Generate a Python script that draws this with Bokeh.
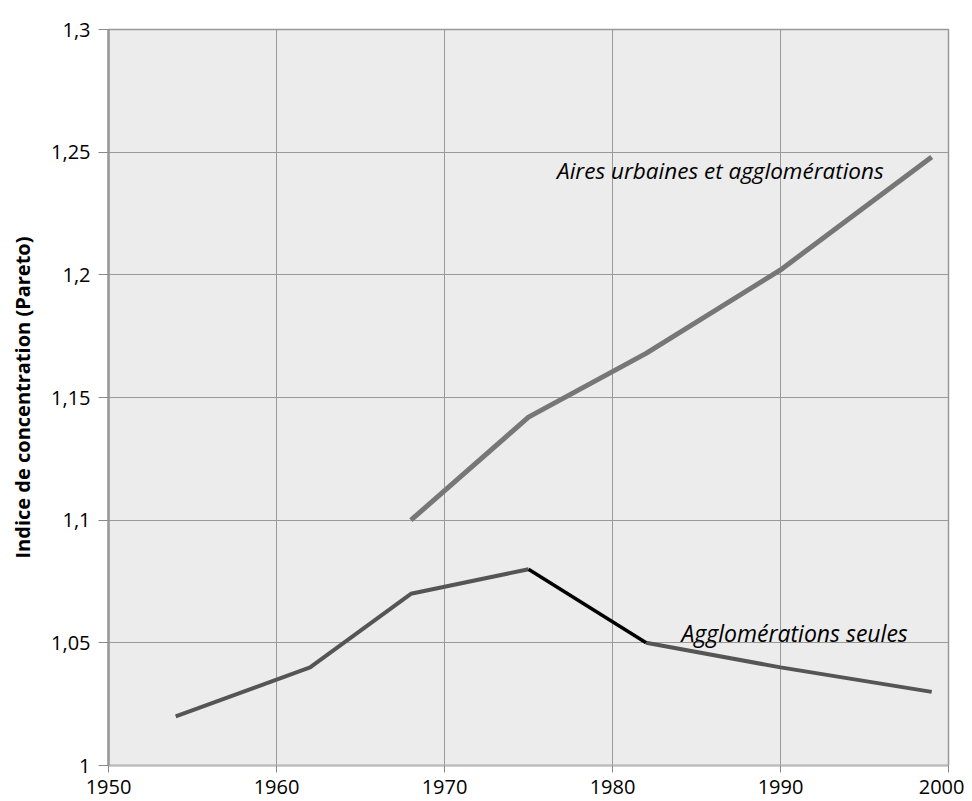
from bokeh.plotting import figure
from bokeh.models import CustomJSTickFormatter, FixedTicker, Label
from bokeh.embed import file_html
from bokeh.resources import INLINE

# Data
aires_years = [1968, 1975, 1982, 1990, 1999]
aires_vals = [1.100, 1.142, 1.168, 1.202, 1.248]

agglo_years_a = [1954, 1962, 1968, 1975]
agglo_vals_a = [1.020, 1.040, 1.070, 1.080]
agglo_years_b = [1975, 1982]
agglo_vals_b = [1.080, 1.050]
agglo_years_c = [1982, 1990, 1999]
agglo_vals_c = [1.050, 1.040, 1.030]

x_ticks = [1950, 1960, 1970, 1980, 1990, 2000]
y_ticks = [1.0, 1.05, 1.1, 1.15, 1.2, 1.25, 1.3]

FONT = "Open Sans"

p = figure(width=964, height=801, x_range=(1950, 2000), y_range=(1.0, 1.3),
           output_backend="svg", toolbar_location=None,
           min_border_left=108, min_border_right=16, min_border_top=29, min_border_bottom=36)

p.background_fill_color = "#ececec"
p.border_fill_color = "white"
p.outline_line_color = "#999999"
p.outline_line_width = 1.5

p.xaxis.ticker = FixedTicker(ticks=x_ticks)
p.yaxis.ticker = FixedTicker(ticks=y_ticks)
p.yaxis.formatter = CustomJSTickFormatter(code="""
var s = tick.toFixed(2);
s = s.replace(/0+$/, '').replace(/\\.$/, '');
return s.replace('.', ',');
""")

for ax in (p.xaxis, p.yaxis):
    ax.major_label_text_font = FONT
    ax.major_label_text_font_size = "20px"
    ax.major_label_text_color = "black"
    ax.minor_tick_line_color = None
    ax.major_tick_line_color = "#888888"
    ax.major_tick_in = 0

p.yaxis.major_tick_out = 10
p.xaxis.major_tick_out = 7
p.yaxis.axis_line_color = "#999999"
p.yaxis.axis_line_width = 2.5
p.xaxis.axis_line_color = "#bbbbbb"
p.xaxis.axis_line_width = 2
p.yaxis.major_label_standoff = 8
p.xaxis.major_label_standoff = 7

p.yaxis.axis_label = "Indice de concentration (Pareto)"
p.yaxis.axis_label_text_font = FONT
p.yaxis.axis_label_text_font_style = "bold"
p.yaxis.axis_label_text_font_size = "20px"
p.yaxis.axis_label_text_color = "black"
p.yaxis.axis_label_standoff = 12

p.xgrid.ticker = FixedTicker(ticks=x_ticks)
p.ygrid.ticker = FixedTicker(ticks=y_ticks)
p.grid.grid_line_color = "#999999"
p.grid.grid_line_width = 1

p.line(aires_years, aires_vals, line_color="#777777", line_width=5)
p.line(agglo_years_a, agglo_vals_a, line_color="#555555", line_width=4)
p.line(agglo_years_c, agglo_vals_c, line_color="#555555", line_width=4)
p.line(agglo_years_b, agglo_vals_b, line_color="black", line_width=3.5)

p.add_layout(Label(x=1976.7, y=1.2425, text="Aires urbaines et agglomérations",
                   text_font=FONT, text_font_style="italic", text_font_size="22.5px",
                   text_baseline="middle", text_align="left", text_color="black"))
p.add_layout(Label(x=1984.1, y=1.054, text="Agglomérations seules",
                   text_font=FONT, text_font_style="italic", text_font_size="23px",
                   text_baseline="middle", text_align="left", text_color="black"))

open("out.html", "w").write(file_html(p, INLINE))
